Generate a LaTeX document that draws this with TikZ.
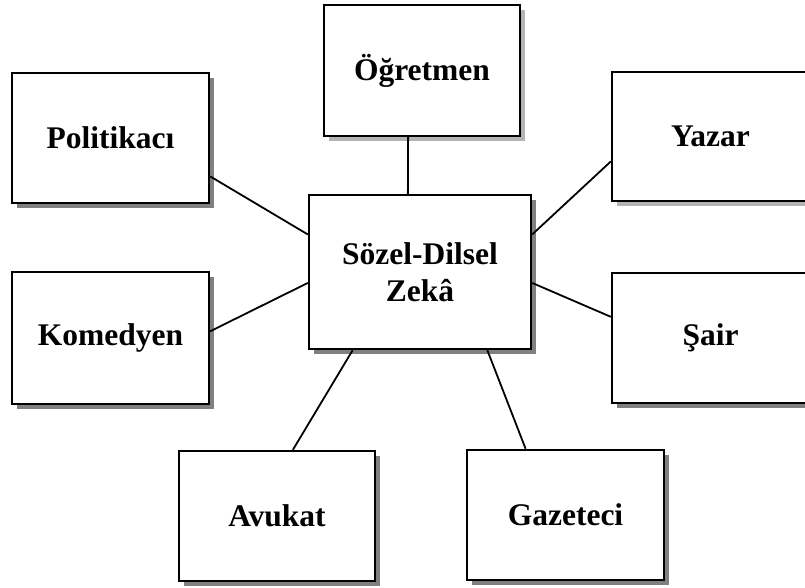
\documentclass[tikz,border=0pt]{standalone}
\usepackage{fontspec}
\setmainfont{Liberation Serif}
\usetikzlibrary{shadows,calc}
\definecolor{shadowdark}{HTML}{808080}
\definecolor{shadowlight}{HTML}{B4B4B4}
\begin{document}
\begin{tikzpicture}[x=1pt,y=1pt,
  box/.style={draw=black, line width=2.4pt, fill=white, align=center,
    inner sep=0pt, minimum width=197pt, minimum height=130pt,
    font=\fontsize{31.5}{37}\selectfont\bfseries},
  darkshadow/.style={drop shadow={shadow xshift=5pt, shadow yshift=-5pt,
    fill=shadowdark, opacity=1}},
  lightshadow/.style={drop shadow={shadow xshift=5pt, shadow yshift=-5pt,
    fill=shadowlight, opacity=1}},
  link/.style={draw=black, line width=1.8pt}]
\useasboundingbox (0,0) rectangle (805,588);
\clip (0,0) rectangle (805,588);

% central box and the professions around it
\node[box, darkshadow, minimum width=222pt, minimum height=154pt] (soz) at (420,316) {Sözel-Dilsel\\Zekâ};
\node[box, lightshadow, minimum width=196pt, minimum height=131pt] (ogr) at (422,517.5) {Öğretmen};
\node[box, darkshadow] (pol) at (110.5,450) {Politikacı};
\node[box, lightshadow, minimum height=129pt] (yaz) at (710.5,451.5) {Yazar};
\node[box, darkshadow, minimum height=132pt] (kom) at (110.5,250) {Komedyen};
\node[box, darkshadow] (sai) at (710.5,250) {Şair};
\node[box, darkshadow, minimum width=196pt] (avu) at (277,72) {Avukat};
\node[box, darkshadow] (gaz) at (565.5,73) {Gazeteci};

% connectors
\draw[link] ($(ogr.south west)!0.43!(ogr.south east)$) -- ($(soz.north west)!0.446!(soz.north east)$);
\draw[link] ($(pol.north east)!0.79!(pol.south east)$) -- ($(soz.north west)!0.26!(soz.south west)$);
\draw[link] ($(kom.north east)!0.45!(kom.south east)$) -- ($(soz.north west)!0.57!(soz.south west)$);
\draw[link] ($(yaz.north west)!0.69!(yaz.south west)$) -- ($(soz.north east)!0.26!(soz.south east)$);
\draw[link] ($(sai.north west)!0.34!(sai.south west)$) -- ($(soz.north east)!0.57!(soz.south east)$);
\draw[link] ($(avu.north west)!0.58!(avu.north east)$) -- ($(soz.south west)!0.20!(soz.south east)$);
\draw[link] ($(gaz.north west)!0.30!(gaz.north east)$) -- ($(soz.south west)!0.80!(soz.south east)$);
\end{tikzpicture}
\end{document}
